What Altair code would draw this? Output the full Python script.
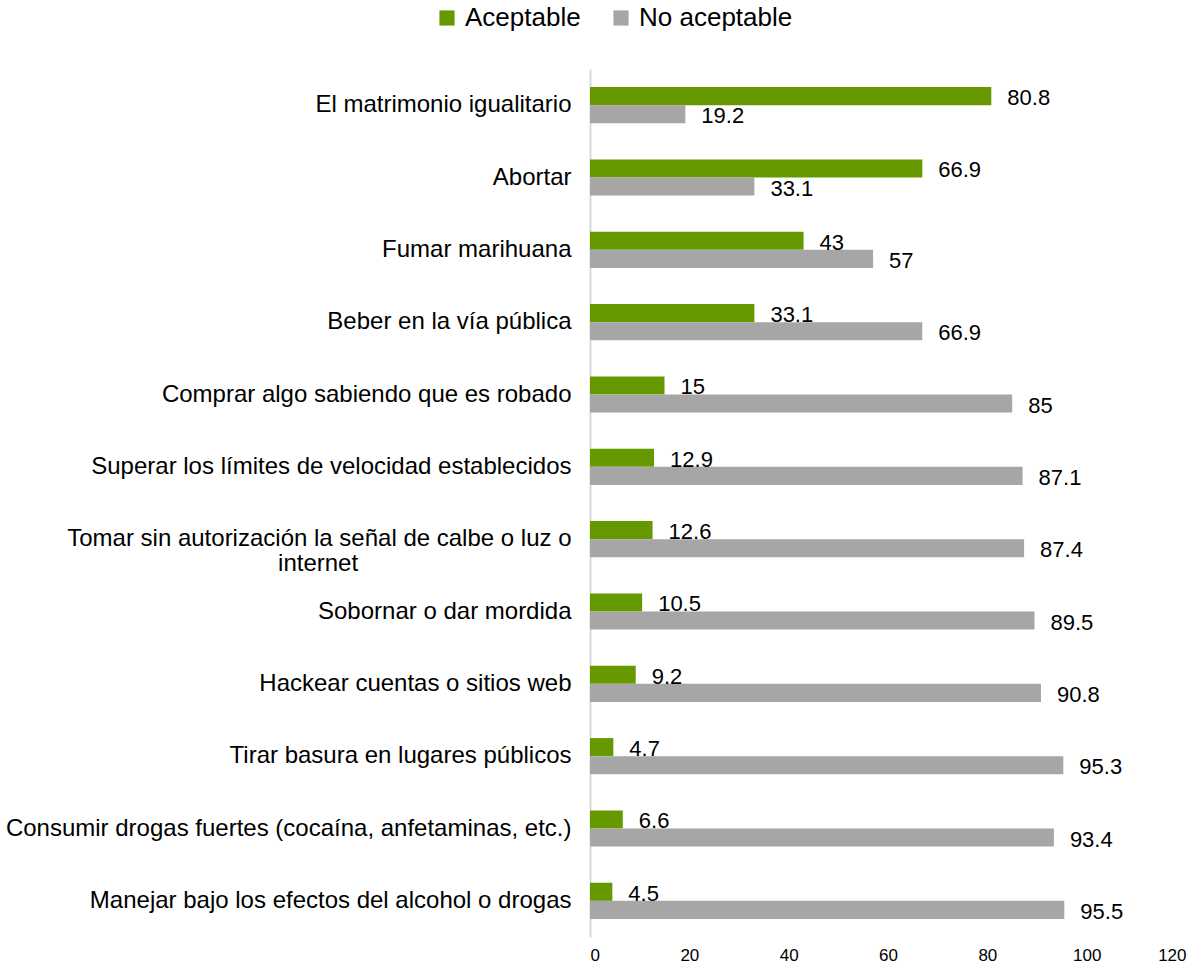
import altair as alt
import pandas as pd

categories = [
    "El matrimonio igualitario",
    "Abortar",
    "Fumar marihuana",
    "Beber en la vía pública",
    "Comprar algo sabiendo que es robado",
    "Superar los límites de velocidad establecidos",
    "Tomar sin autorización la señal de calbe o luz o\ninternet",
    "Sobornar o dar mordida",
    "Hackear cuentas o sitios web",
    "Tirar basura en lugares públicos",
    "Consumir drogas fuertes (cocaína, anfetaminas, etc.)",
    "Manejar bajo los efectos del alcohol o drogas",
]
aceptable = [80.8, 66.9, 43, 33.1, 15, 12.9, 12.6, 10.5, 9.2, 4.7, 6.6, 4.5]
no_aceptable = [19.2, 33.1, 57, 66.9, 85, 87.1, 87.4, 89.5, 90.8, 95.3, 93.4, 95.5]
series = ["Aceptable", "No aceptable"]
colors = ["#669900", "#A6A6A6"]

rows = []
for c, a, n in zip(categories, aceptable, no_aceptable):
    rows.append({"cat": c, "serie": series[0], "val": a})
    rows.append({"cat": c, "serie": series[1], "val": n})
df = pd.DataFrame(rows)

# wrapped label: second line visually centred under the first
# (trailing non-breaking spaces closed by an invisible word joiner)
PAD = "\u00a0" * 32 + "\u2060"
label_expr = (
    "length(split(datum.label, '\\n')) > 1 ? "
    "[split(datum.label, '\\n')[0], split(datum.label, '\\n')[1] + '" + PAD + "'] : datum.label"
)

y_enc = alt.Y(
    "cat:N",
    sort=categories,
    scale=alt.Scale(paddingInner=0.5, paddingOuter=0.25),
    axis=alt.Axis(
        title=None,
        labelExpr=label_expr,
        labelFont="Liberation Sans",
        labelFontSize=24,
        labelColor="#000000",
        labelLineHeight=25,
        labelPadding=19,
        labelLimit=700,
        ticks=False,
        domainColor="#D9D9D9",
        domainWidth=2,
    ),
)
yoff = alt.YOffset("serie:N", sort=series)
x_enc = alt.X(
    "val:Q",
    scale=alt.Scale(domain=[0, 120]),
    axis=alt.Axis(
        title=None,
        values=[0, 20, 40, 60, 80, 100, 120],
        domain=False,
        ticks=False,
        grid=False,
        labelFont="Liberation Sans",
        labelFontSize=17,
        labelColor="#000000",
        labelPadding=10,
    ),
)

bars = alt.Chart(df).mark_bar().encode(
    y=y_enc,
    yOffset=yoff,
    x=x_enc,
    color=alt.Color(
        "serie:N",
        sort=series,
        scale=alt.Scale(domain=series, range=colors),
        legend=alt.Legend(
            title=None,
            orient="none",
            direction="horizontal",
            legendX=-156,
            legendY=-64,
            symbolType="square",
            symbolSize=230,
            symbolStrokeWidth=0,
            labelFont="Liberation Sans",
            labelFontSize=26,
            labelColor="#000000",
            labelOffset=5,
            columnPadding=27,
        ),
    ),
)

labels = alt.Chart(df).mark_text(
    align="left", baseline="middle", dx=16, dy=2,
    font="Liberation Sans", fontSize=22, color="#000000",
).encode(
    y=alt.Y("cat:N", sort=categories),
    yOffset=yoff,
    x=alt.X("val:Q"),
    text=alt.Text("val:Q"),
)

chart = alt.layer(bars, labels).properties(
    width=596, height=868,
    padding={"left": 5, "top": 5, "right": 10, "bottom": 5},
).configure(background="white").configure_view(stroke=None)

chart.save("out.html", embed_options={"renderer": "svg", "actions": False})
